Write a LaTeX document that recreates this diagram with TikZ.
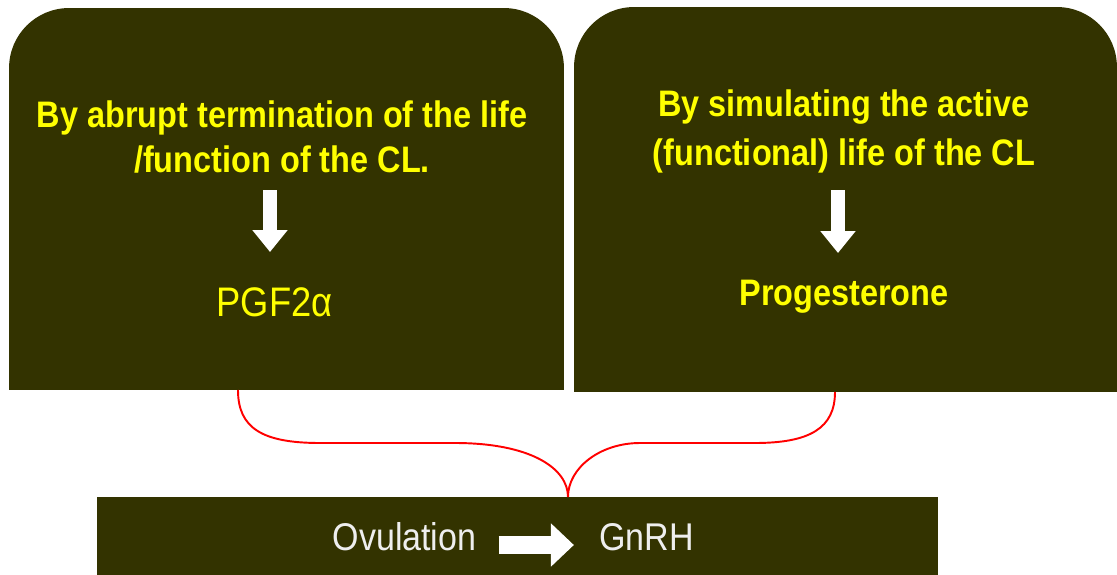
\documentclass[tikz,border=0pt]{standalone}
\usepackage{fontspec}
\setmainfont{Liberation Sans}
\newfontfamily\slidefont[FakeStretch=0.88]{Liberation Sans}
\usepackage{xcolor}
\usetikzlibrary{arrows.meta}
\definecolor{olivebox}{RGB}{51,51,0}
\definecolor{slideyellow}{RGB}{255,255,0}
\definecolor{paletext}{RGB}{238,238,238}
\tikzset{>=latex}
\tikzstyle{panel} = [rectangle, fill=olivebox, inner sep=0pt, outer sep=0pt, rounded corners=1.2cm]
\tikzstyle{bar} = [rectangle, fill=olivebox, inner sep=0pt, outer sep=0pt]
\tikzstyle{cause} = [align=center, text=slideyellow, inner sep=0pt]
\tikzstyle{result} = [text=slideyellow, inner sep=0pt]
\tikzstyle{bartext} = [text=paletext, inner sep=0pt, font=\slidefont\fontsize{22}{26}\selectfont]
\tikzstyle{blockarrow} = [white, line width=0.28cm, -{Triangle[length=0.44cm, width=0.68cm]}]
\tikzstyle{bracket} = [red, line width=1.1pt]

\begin{document}
\begin{tikzpicture}[x=0.02cm, y=-0.02cm]
    \useasboundingbox (0,0) rectangle (1117,575);

    % Upper panels, rounded only at the top
    \node[panel, minimum width=11.1cm, minimum height=7.64cm] (lbox) at (286.5,199) {};
    \fill[olivebox] (lbox.west) rectangle (lbox.south east);
    \node[panel, minimum width=10.86cm, minimum height=7.7cm] (rbox) at (845.5,199.5) {};
    \fill[olivebox] (rbox.west) rectangle (rbox.south east);

    % Lower bar
    \node[bar, minimum width=16.82cm, minimum height=1.56cm] (ovbox) at (517.5,536) {};

    % Left panel
    \node[cause, font=\slidefont\bfseries\fontsize{21}{26.1}\selectfont] (lcause) at (282,137)
        {By abrupt termination of the life\\/function of the CL.};
    \coordinate (ltop) at (270,190);
    \coordinate (lend) at (270,252);
    \draw[blockarrow] (ltop) -- (lend);
    \node[result, font=\slidefont\fontsize{23.5}{28}\selectfont] (lresult) at (274.5,302) {PGF2α};

    % Right panel
    \node[cause, font=\slidefont\bfseries\fontsize{21}{27.8}\selectfont] (rcause) at (844,131.5)
        {By simulating the active\\(functional) life of the CL};
    \coordinate (rtop) at (838,190);
    \coordinate (rend) at (838,253);
    \draw[blockarrow] (rtop) -- (rend);
    \node[result, font=\slidefont\bfseries\fontsize{21}{26}\selectfont] (rresult) at (844,297) {Progesterone};

    % Bar text
    \node[bartext] (ovul) at (404.5,537) {Ovulation};
    \node[bartext] (gnrh) at (646.5,537) {GnRH};
    \draw[white, line width=0.36cm, -{Triangle[length=0.46cm, width=0.84cm]},
          shorten <=0.44cm, shorten >=0.5cm] ([yshift=-0.16cm]ovul.east) -- ([yshift=-0.16cm]gnrh.west);

    % Red brace joining both panels to the bar
    \coordinate (lfoot) at (238,390);
    \coordinate (rfoot) at (835,392);
    \coordinate (join) at (568,497);
    \draw[bracket] (lfoot) .. controls (238,428) and (262,443) .. (320,443) -- (455,443)
        .. controls (530,443) and (568,468) .. (join);
    \draw[bracket] (rfoot) .. controls (835,428) and (810,443) .. (755,443) -- (640,443)
        .. controls (600,443) and (568,468) .. (join);
\end{tikzpicture}
\end{document}
